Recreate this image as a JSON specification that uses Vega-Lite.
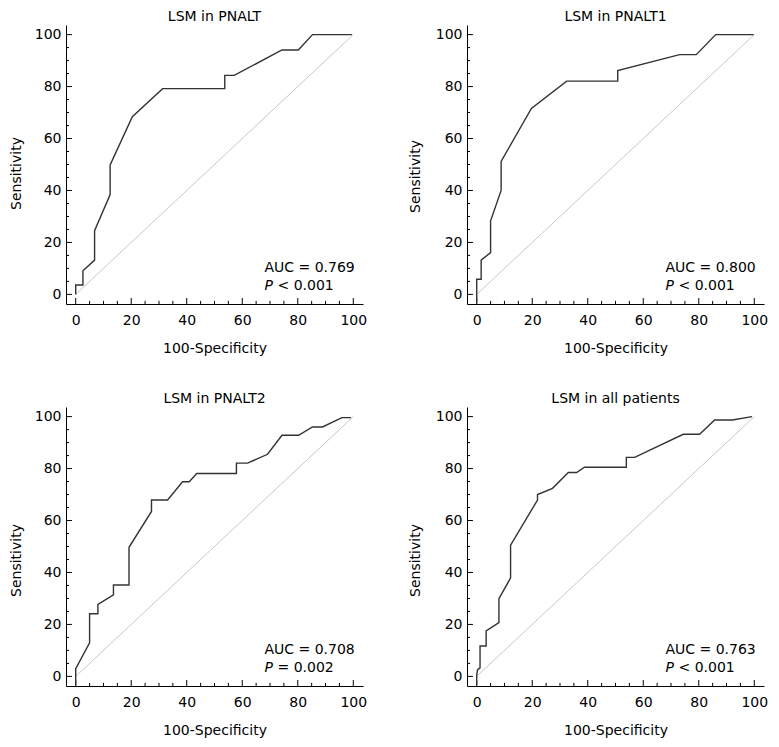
{
  "$schema": "https://vega.github.io/schema/vega-lite/v6.json",
  "padding": {"left": 9, "top": 10, "right": 5, "bottom": 5},
  "background": "white",
  "datasets": {
    "roc": [
      {"p": "A", "i": 1, "x": 0, "y": 0}, {"p": "A", "i": 2, "x": 0, "y": 3.6}, {"p": "A", "i": 3, "x": 2.6, "y": 3.6}, {"p": "A", "i": 4, "x": 2.6, "y": 9.1},
      {"p": "A", "i": 5, "x": 6.8, "y": 13.2}, {"p": "A", "i": 6, "x": 6.8, "y": 24.5}, {"p": "A", "i": 7, "x": 12.4, "y": 38.4}, {"p": "A", "i": 8, "x": 12.4, "y": 49.8},
      {"p": "A", "i": 9, "x": 20.4, "y": 68.4}, {"p": "A", "i": 10, "x": 31.3, "y": 79.2}, {"p": "A", "i": 11, "x": 53.7, "y": 79.2}, {"p": "A", "i": 12, "x": 53.7, "y": 84.3},
      {"p": "A", "i": 13, "x": 57.1, "y": 84.3}, {"p": "A", "i": 14, "x": 74.3, "y": 94.1}, {"p": "A", "i": 15, "x": 80.2, "y": 94.1}, {"p": "A", "i": 16, "x": 85.3, "y": 100},
      {"p": "A", "i": 17, "x": 99.5, "y": 100},
      {"p": "B", "i": 1, "x": 0, "y": -3.4}, {"p": "B", "i": 2, "x": 0, "y": 5.8}, {"p": "B", "i": 3, "x": 1.6, "y": 5.8}, {"p": "B", "i": 4, "x": 1.6, "y": 13.2},
      {"p": "B", "i": 5, "x": 5.0, "y": 16.1}, {"p": "B", "i": 6, "x": 5.0, "y": 28.3}, {"p": "B", "i": 7, "x": 8.8, "y": 40}, {"p": "B", "i": 8, "x": 8.8, "y": 51.2},
      {"p": "B", "i": 9, "x": 19.7, "y": 71.6}, {"p": "B", "i": 10, "x": 32.4, "y": 82.1}, {"p": "B", "i": 11, "x": 50.8, "y": 82.1}, {"p": "B", "i": 12, "x": 50.8, "y": 86.2},
      {"p": "B", "i": 13, "x": 73.1, "y": 92.3}, {"p": "B", "i": 14, "x": 79.1, "y": 92.3}, {"p": "B", "i": 15, "x": 86.1, "y": 100}, {"p": "B", "i": 16, "x": 99.8, "y": 100},
      {"p": "C", "i": 1, "x": 0, "y": -3.4}, {"p": "C", "i": 2, "x": 0, "y": 3.0}, {"p": "C", "i": 3, "x": 5.0, "y": 12.9}, {"p": "C", "i": 4, "x": 5.0, "y": 24.1},
      {"p": "C", "i": 5, "x": 8.0, "y": 24.1}, {"p": "C", "i": 6, "x": 8.0, "y": 27.7}, {"p": "C", "i": 7, "x": 13.6, "y": 31.4}, {"p": "C", "i": 8, "x": 13.6, "y": 35.2},
      {"p": "C", "i": 9, "x": 19.2, "y": 35.2}, {"p": "C", "i": 10, "x": 19.2, "y": 49.7}, {"p": "C", "i": 11, "x": 27.3, "y": 63.5}, {"p": "C", "i": 12, "x": 27.3, "y": 67.9},
      {"p": "C", "i": 13, "x": 33.1, "y": 67.9}, {"p": "C", "i": 14, "x": 38.5, "y": 74.9}, {"p": "C", "i": 15, "x": 40.9, "y": 74.9}, {"p": "C", "i": 16, "x": 43.6, "y": 78.1},
      {"p": "C", "i": 17, "x": 57.9, "y": 78.1}, {"p": "C", "i": 18, "x": 57.9, "y": 82.1}, {"p": "C", "i": 19, "x": 61.9, "y": 82.1}, {"p": "C", "i": 20, "x": 69.1, "y": 85.5},
      {"p": "C", "i": 21, "x": 74.3, "y": 92.8}, {"p": "C", "i": 22, "x": 80.3, "y": 92.8}, {"p": "C", "i": 23, "x": 85.3, "y": 96}, {"p": "C", "i": 24, "x": 88.9, "y": 96},
      {"p": "C", "i": 25, "x": 95.9, "y": 99.6}, {"p": "C", "i": 26, "x": 99.2, "y": 99.6},
      {"p": "D", "i": 1, "x": 0, "y": -3.4}, {"p": "D", "i": 2, "x": 0, "y": 0.5}, {"p": "D", "i": 3, "x": 0.3, "y": 2.6}, {"p": "D", "i": 4, "x": 1.2, "y": 3.3},
      {"p": "D", "i": 5, "x": 1.2, "y": 11.7}, {"p": "D", "i": 6, "x": 3.4, "y": 11.7}, {"p": "D", "i": 7, "x": 3.4, "y": 17.5}, {"p": "D", "i": 8, "x": 8.0, "y": 20.7},
      {"p": "D", "i": 9, "x": 8.0, "y": 29.9}, {"p": "D", "i": 10, "x": 12.2, "y": 37.9}, {"p": "D", "i": 11, "x": 12.2, "y": 50.5}, {"p": "D", "i": 12, "x": 21.9, "y": 67.9},
      {"p": "D", "i": 13, "x": 21.9, "y": 70}, {"p": "D", "i": 14, "x": 27.3, "y": 72.4}, {"p": "D", "i": 15, "x": 33, "y": 78.5}, {"p": "D", "i": 16, "x": 36, "y": 78.5},
      {"p": "D", "i": 17, "x": 38.8, "y": 80.5}, {"p": "D", "i": 18, "x": 53.9, "y": 80.5}, {"p": "D", "i": 19, "x": 53.9, "y": 84.3}, {"p": "D", "i": 20, "x": 56.9, "y": 84.3},
      {"p": "D", "i": 21, "x": 74.4, "y": 93.2}, {"p": "D", "i": 22, "x": 80.3, "y": 93.2}, {"p": "D", "i": 23, "x": 85.7, "y": 98.7}, {"p": "D", "i": 24, "x": 92.1, "y": 98.7},
      {"p": "D", "i": 25, "x": 99.2, "y": 100}
    ],
    "diag": [{"x": 0, "y": 0}, {"x": 100, "y": 100}],
    "ticks": [
      {"v": 0, "major": true}, {"v": 5, "major": false}, {"v": 10, "major": false}, {"v": 15, "major": false},
      {"v": 20, "major": true}, {"v": 25, "major": false}, {"v": 30, "major": false}, {"v": 35, "major": false},
      {"v": 40, "major": true}, {"v": 45, "major": false}, {"v": 50, "major": false}, {"v": 55, "major": false},
      {"v": 60, "major": true}, {"v": 65, "major": false}, {"v": 70, "major": false}, {"v": 75, "major": false},
      {"v": 80, "major": true}, {"v": 85, "major": false}, {"v": 90, "major": false}, {"v": 95, "major": false},
      {"v": 100, "major": true}
    ],
    "ann": [
      {"p": "A", "auc": "AUC = 0.769", "pv": "< 0.001"},
      {"p": "B", "auc": "AUC = 0.800", "pv": "< 0.001"},
      {"p": "C", "auc": "AUC = 0.708", "pv": "= 0.002"},
      {"p": "D", "auc": "AUC = 0.763", "pv": "< 0.001"}
    ]
  },
  "config": {
    "font": "DejaVu Sans",
    "view": {"stroke": null},
    "title": {"font": "DejaVu Sans", "fontSize": 14, "fontWeight": "normal", "color": "#000", "offset": 1, "baseline": "alphabetic"},
    "axis": {
      "grid": false,
      "ticks": true,
      "tickSize": 0,
      "domainColor": "#000",
      "domainWidth": 1,
      "labelFont": "DejaVu Sans",
      "labelFontSize": 14,
      "labelColor": "#000",
      "titleFont": "DejaVu Sans",
      "titleFontSize": 14,
      "titleFontWeight": "normal",
      "titleColor": "#000"
    },
    "rule": {"color": "#000", "strokeWidth": 1},
    "text": {"font": "DejaVu Sans", "fontSize": 14, "color": "#000"}
  },
  "columns": 2,
  "spacing": {"row": 37, "column": 41},
  "concat": [
    {
      "title": "LSM in PNALT",
      "width": 297, "height": 279,
      "layer": [
        {"data": {"name": "diag"}, "mark": {"type": "line", "color": "#c8c8c8", "strokeWidth": 1}, "encoding": {
          "x": {"field": "x", "type": "quantitative", "scale": {"domain": [-3.5, 103.5], "nice": false, "zero": false},
            "title": "100-Specificity", "axis": {"values": [0, 20, 40, 60, 80, 100], "labelPadding": 9, "titlePadding": 14}},
          "y": {"field": "y", "type": "quantitative", "scale": {"domain": [-3.7, 103.7], "nice": false, "zero": false},
            "title": "Sensitivity", "axis": {"values": [0, 20, 40, 60, 80, 100], "labelPadding": 5, "titleX": -43, "titleY": 148}}
        }},
        {"data": {"name": "ticks"}, "transform": [{"filter": "datum.major"}], "mark": {"type": "rule"}, "encoding": {
          "x": {"field": "v", "type": "quantitative"}, "y": {"datum": -3.7}, "y2": {"datum": -1.4}}},
        {"data": {"name": "ticks"}, "transform": [{"filter": "!datum.major"}], "mark": {"type": "rule"}, "encoding": {
          "x": {"field": "v", "type": "quantitative"}, "y": {"datum": -3.7}, "y2": {"datum": -2.5}}},
        {"data": {"name": "ticks"}, "transform": [{"filter": "datum.major"}], "mark": {"type": "rule"}, "encoding": {
          "y": {"field": "v", "type": "quantitative"}, "x": {"datum": -3.5}, "x2": {"datum": -1.35}}},
        {"data": {"name": "ticks"}, "transform": [{"filter": "!datum.major"}], "mark": {"type": "rule"}, "encoding": {
          "y": {"field": "v", "type": "quantitative"}, "x": {"datum": -3.5}, "x2": {"datum": -2.4}}},
        {"data": {"name": "roc"}, "transform": [{"filter": "datum.p === 'A'"}], "mark": {"type": "line", "color": "#333333", "strokeWidth": 1.4}, "encoding": {
          "x": {"field": "x", "type": "quantitative"}, "y": {"field": "y", "type": "quantitative"},
          "order": {"field": "i", "type": "quantitative"}}},
        {"data": {"name": "ann"}, "transform": [{"filter": "datum.p === 'A'"}], "mark": {"type": "text", "align": "left", "baseline": "middle"}, "encoding": {
          "x": {"datum": 68}, "y": {"datum": 10}, "text": {"field": "auc"}}},
        {"data": {"name": "ann"}, "transform": [{"filter": "datum.p === 'A'"}], "mark": {"type": "text", "align": "left", "baseline": "middle", "fontStyle": "italic"}, "encoding": {
          "x": {"datum": 68}, "y": {"datum": 3.4}, "text": {"value": "P"}}},
        {"data": {"name": "ann"}, "transform": [{"filter": "datum.p === 'A'"}], "mark": {"type": "text", "align": "left", "baseline": "middle", "dx": 13}, "encoding": {
          "x": {"datum": 68}, "y": {"datum": 3.4}, "text": {"field": "pv"}}}
      ]
    },
    {
      "title": "LSM in PNALT1",
      "width": 297, "height": 279,
      "layer": [
        {"data": {"name": "diag"}, "mark": {"type": "line", "color": "#c8c8c8", "strokeWidth": 1}, "encoding": {
          "x": {"field": "x", "type": "quantitative", "scale": {"domain": [-3.5, 103.5], "nice": false, "zero": false},
            "title": "100-Specificity", "axis": {"values": [0, 20, 40, 60, 80, 100], "labelPadding": 9, "titlePadding": 14}},
          "y": {"field": "y", "type": "quantitative", "scale": {"domain": [-3.7, 103.7], "nice": false, "zero": false},
            "title": "Sensitivity", "axis": {"values": [0, 20, 40, 60, 80, 100], "labelPadding": 5, "titleX": -45, "titleY": 151}}
        }},
        {"data": {"name": "ticks"}, "transform": [{"filter": "datum.major"}], "mark": {"type": "rule"}, "encoding": {
          "x": {"field": "v", "type": "quantitative"}, "y": {"datum": -3.7}, "y2": {"datum": -1.4}}},
        {"data": {"name": "ticks"}, "transform": [{"filter": "!datum.major"}], "mark": {"type": "rule"}, "encoding": {
          "x": {"field": "v", "type": "quantitative"}, "y": {"datum": -3.7}, "y2": {"datum": -2.5}}},
        {"data": {"name": "ticks"}, "transform": [{"filter": "datum.major"}], "mark": {"type": "rule"}, "encoding": {
          "y": {"field": "v", "type": "quantitative"}, "x": {"datum": -3.5}, "x2": {"datum": -1.35}}},
        {"data": {"name": "ticks"}, "transform": [{"filter": "!datum.major"}], "mark": {"type": "rule"}, "encoding": {
          "y": {"field": "v", "type": "quantitative"}, "x": {"datum": -3.5}, "x2": {"datum": -2.4}}},
        {"data": {"name": "roc"}, "transform": [{"filter": "datum.p === 'B'"}], "mark": {"type": "line", "color": "#333333", "strokeWidth": 1.4}, "encoding": {
          "x": {"field": "x", "type": "quantitative"}, "y": {"field": "y", "type": "quantitative"},
          "order": {"field": "i", "type": "quantitative"}}},
        {"data": {"name": "ann"}, "transform": [{"filter": "datum.p === 'B'"}], "mark": {"type": "text", "align": "left", "baseline": "middle"}, "encoding": {
          "x": {"datum": 68}, "y": {"datum": 10}, "text": {"field": "auc"}}},
        {"data": {"name": "ann"}, "transform": [{"filter": "datum.p === 'B'"}], "mark": {"type": "text", "align": "left", "baseline": "middle", "fontStyle": "italic"}, "encoding": {
          "x": {"datum": 68}, "y": {"datum": 3.4}, "text": {"value": "P"}}},
        {"data": {"name": "ann"}, "transform": [{"filter": "datum.p === 'B'"}], "mark": {"type": "text", "align": "left", "baseline": "middle", "dx": 13}, "encoding": {
          "x": {"datum": 68}, "y": {"datum": 3.4}, "text": {"field": "pv"}}}
      ]
    },
    {
      "title": "LSM in PNALT2",
      "width": 297, "height": 279,
      "layer": [
        {"data": {"name": "diag"}, "mark": {"type": "line", "color": "#c8c8c8", "strokeWidth": 1}, "encoding": {
          "x": {"field": "x", "type": "quantitative", "scale": {"domain": [-3.5, 103.5], "nice": false, "zero": false},
            "title": "100-Specificity", "axis": {"values": [0, 20, 40, 60, 80, 100], "labelPadding": 9, "titlePadding": 14}},
          "y": {"field": "y", "type": "quantitative", "scale": {"domain": [-3.7, 103.7], "nice": false, "zero": false},
            "title": "Sensitivity", "axis": {"values": [0, 20, 40, 60, 80, 100], "labelPadding": 5, "titleX": -43, "titleY": 153}}
        }},
        {"data": {"name": "ticks"}, "transform": [{"filter": "datum.major"}], "mark": {"type": "rule"}, "encoding": {
          "x": {"field": "v", "type": "quantitative"}, "y": {"datum": -3.7}, "y2": {"datum": -1.4}}},
        {"data": {"name": "ticks"}, "transform": [{"filter": "!datum.major"}], "mark": {"type": "rule"}, "encoding": {
          "x": {"field": "v", "type": "quantitative"}, "y": {"datum": -3.7}, "y2": {"datum": -2.5}}},
        {"data": {"name": "ticks"}, "transform": [{"filter": "datum.major"}], "mark": {"type": "rule"}, "encoding": {
          "y": {"field": "v", "type": "quantitative"}, "x": {"datum": -3.5}, "x2": {"datum": -1.35}}},
        {"data": {"name": "ticks"}, "transform": [{"filter": "!datum.major"}], "mark": {"type": "rule"}, "encoding": {
          "y": {"field": "v", "type": "quantitative"}, "x": {"datum": -3.5}, "x2": {"datum": -2.4}}},
        {"data": {"name": "roc"}, "transform": [{"filter": "datum.p === 'C'"}], "mark": {"type": "line", "color": "#333333", "strokeWidth": 1.4}, "encoding": {
          "x": {"field": "x", "type": "quantitative"}, "y": {"field": "y", "type": "quantitative"},
          "order": {"field": "i", "type": "quantitative"}}},
        {"data": {"name": "ann"}, "transform": [{"filter": "datum.p === 'C'"}], "mark": {"type": "text", "align": "left", "baseline": "middle"}, "encoding": {
          "x": {"datum": 68}, "y": {"datum": 10}, "text": {"field": "auc"}}},
        {"data": {"name": "ann"}, "transform": [{"filter": "datum.p === 'C'"}], "mark": {"type": "text", "align": "left", "baseline": "middle", "fontStyle": "italic"}, "encoding": {
          "x": {"datum": 68}, "y": {"datum": 3.4}, "text": {"value": "P"}}},
        {"data": {"name": "ann"}, "transform": [{"filter": "datum.p === 'C'"}], "mark": {"type": "text", "align": "left", "baseline": "middle", "dx": 13}, "encoding": {
          "x": {"datum": 68}, "y": {"datum": 3.4}, "text": {"field": "pv"}}}
      ]
    },
    {
      "title": "LSM in all patients",
      "width": 297, "height": 279,
      "layer": [
        {"data": {"name": "diag"}, "mark": {"type": "line", "color": "#c8c8c8", "strokeWidth": 1}, "encoding": {
          "x": {"field": "x", "type": "quantitative", "scale": {"domain": [-3.5, 103.5], "nice": false, "zero": false},
            "title": "100-Specificity", "axis": {"values": [0, 20, 40, 60, 80, 100], "labelPadding": 9, "titlePadding": 14}},
          "y": {"field": "y", "type": "quantitative", "scale": {"domain": [-3.7, 103.7], "nice": false, "zero": false},
            "title": "Sensitivity", "axis": {"values": [0, 20, 40, 60, 80, 100], "labelPadding": 5, "titleX": -45, "titleY": 153}}
        }},
        {"data": {"name": "ticks"}, "transform": [{"filter": "datum.major"}], "mark": {"type": "rule"}, "encoding": {
          "x": {"field": "v", "type": "quantitative"}, "y": {"datum": -3.7}, "y2": {"datum": -1.4}}},
        {"data": {"name": "ticks"}, "transform": [{"filter": "!datum.major"}], "mark": {"type": "rule"}, "encoding": {
          "x": {"field": "v", "type": "quantitative"}, "y": {"datum": -3.7}, "y2": {"datum": -2.5}}},
        {"data": {"name": "ticks"}, "transform": [{"filter": "datum.major"}], "mark": {"type": "rule"}, "encoding": {
          "y": {"field": "v", "type": "quantitative"}, "x": {"datum": -3.5}, "x2": {"datum": -1.35}}},
        {"data": {"name": "ticks"}, "transform": [{"filter": "!datum.major"}], "mark": {"type": "rule"}, "encoding": {
          "y": {"field": "v", "type": "quantitative"}, "x": {"datum": -3.5}, "x2": {"datum": -2.4}}},
        {"data": {"name": "roc"}, "transform": [{"filter": "datum.p === 'D'"}], "mark": {"type": "line", "color": "#333333", "strokeWidth": 1.4}, "encoding": {
          "x": {"field": "x", "type": "quantitative"}, "y": {"field": "y", "type": "quantitative"},
          "order": {"field": "i", "type": "quantitative"}}},
        {"data": {"name": "ann"}, "transform": [{"filter": "datum.p === 'D'"}], "mark": {"type": "text", "align": "left", "baseline": "middle"}, "encoding": {
          "x": {"datum": 68}, "y": {"datum": 10}, "text": {"field": "auc"}}},
        {"data": {"name": "ann"}, "transform": [{"filter": "datum.p === 'D'"}], "mark": {"type": "text", "align": "left", "baseline": "middle", "fontStyle": "italic"}, "encoding": {
          "x": {"datum": 68}, "y": {"datum": 3.4}, "text": {"value": "P"}}},
        {"data": {"name": "ann"}, "transform": [{"filter": "datum.p === 'D'"}], "mark": {"type": "text", "align": "left", "baseline": "middle", "dx": 13}, "encoding": {
          "x": {"datum": 68}, "y": {"datum": 3.4}, "text": {"field": "pv"}}}
      ]
    }
  ]
}
